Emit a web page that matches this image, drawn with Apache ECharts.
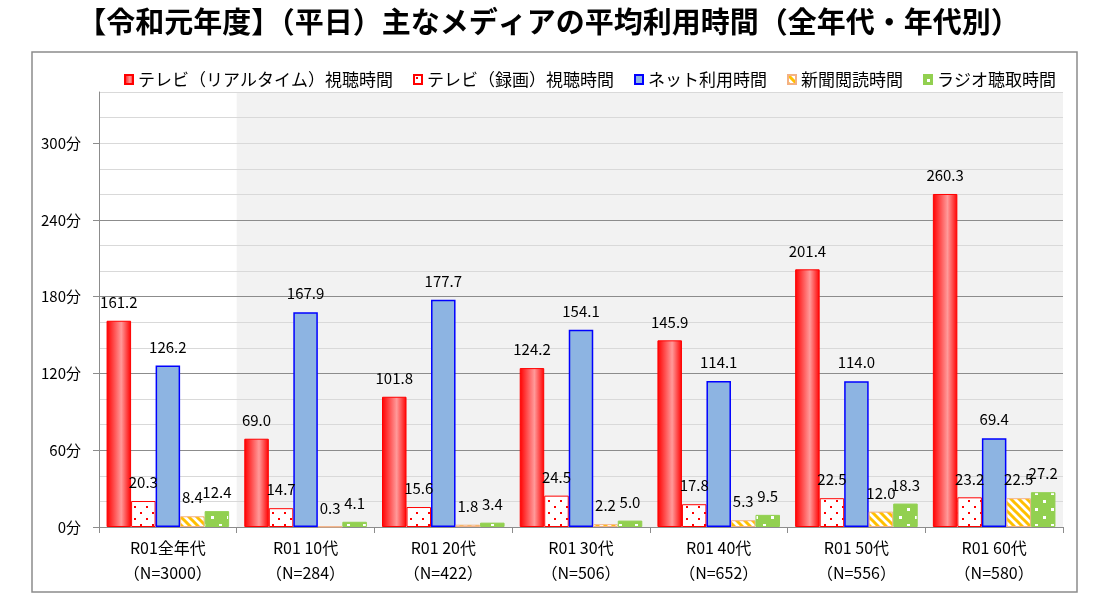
<!DOCTYPE html>
<html>
<head>
<meta charset="utf-8">
<script src="https://cdn.jsdelivr.net/npm/echarts@6/dist/echarts.min.js"></script>
<style>
html,body{margin:0;padding:0;background:#fff;}
#chart{width:1097px;height:613px;}
</style>
</head>
<body>
<div id="chart"></div>
<script>
// ---- data ----
const categories = ['R01全年代', 'R01 10代', 'R01 20代', 'R01 30代', 'R01 40代', 'R01 50代', 'R01 60代'];
const sampleSizes = ['（N=3000）', '（N=284）', '（N=422）', '（N=506）', '（N=652）', '（N=556）', '（N=580）'];
const seriesNames = ['テレビ（リアルタイム）視聴時間', 'テレビ（録画）視聴時間', 'ネット利用時間', '新聞閲読時間', 'ラジオ聴取時間'];
const tvRealtime = [161.2, 69.0, 101.8, 124.2, 145.9, 201.4, 260.3];
const tvRecorded = [20.3, 14.7, 15.6, 24.5, 17.8, 22.5, 23.2];
const internet   = [126.2, 167.9, 177.7, 154.1, 114.1, 114.0, 69.4];
const newspaper  = [8.4, 0.3, 1.8, 2.2, 5.3, 12.0, 22.5];
const radio      = [12.4, 4.1, 3.4, 5.0, 9.5, 18.3, 27.2];
const yTickValues = [0, 60, 120, 180, 240, 300];
const yUnit = '分';
const titleText = '【令和元年度】（平日）主なメディアの平均利用時間（全年代・年代別）';

// ---- patterns ----
function makeTile(w, h, draw) {
  const c = document.createElement('canvas');
  c.width = w; c.height = h;
  const ctx = c.getContext('2d');
  draw(ctx, w, h);
  return c;
}
const dotTile = makeTile(12, 12, (ctx, w, h) => {
  ctx.fillStyle = '#ffffff'; ctx.fillRect(0, 0, w, h);
  ctx.fillStyle = '#ff0000';
  ctx.fillRect(2, 2, 2, 2);
  ctx.fillRect(8, 8, 2, 2);
});
const stripeTile = makeTile(8, 8, (ctx, w, h) => {
  ctx.fillStyle = '#ffffff'; ctx.fillRect(0, 0, w, h);
  ctx.strokeStyle = '#ffc000'; ctx.lineWidth = 3;
  ctx.beginPath();
  ctx.moveTo(-2, -2); ctx.lineTo(10, 10);
  ctx.moveTo(-6, 2); ctx.lineTo(2, 10);
  ctx.moveTo(2, -6); ctx.lineTo(10, 2);
  ctx.stroke();
});
const greenTile = makeTile(16, 16, (ctx, w, h) => {
  ctx.fillStyle = '#92d050'; ctx.fillRect(0, 0, w, h);
  ctx.fillStyle = '#ffffff';
  ctx.fillRect(3, 4, 3, 3);
  ctx.fillRect(11, 12, 3, 3);
});

const redGradient = new echarts.graphic.LinearGradient(0, 0, 1, 0, [
  { offset: 0, color: '#ff0000' },
  { offset: 0.6, color: '#ff9a9a' },
  { offset: 1, color: '#ff0000' }
]);

const styles = [
  { color: redGradient, borderColor: '#ff0000', borderWidth: 1 },
  { color: { image: dotTile, repeat: 'repeat' }, borderColor: '#ff0000', borderWidth: 1 },
  { color: '#8db4e2', borderColor: '#0000ff', borderWidth: 1.5 },
  { color: { image: stripeTile, repeat: 'repeat' }, borderColor: '#f4b183', borderWidth: 1 },
  { color: { image: greenTile, repeat: 'repeat' }, borderColor: '#92d050', borderWidth: 1 }
];
const values = [tvRealtime, tvRecorded, internet, newspaper, radio];

const font = '"Noto Sans CJK JP", "Noto Sans", sans-serif';

const barSeries = values.map((arr, i) => ({
  name: seriesNames[i],
  type: 'bar',
  data: arr,
  barGap: '0%',
  barCategoryGap: '11%',
  z: 5,
  itemStyle: styles[i],
  label: {
    show: true,
    position: 'top',
    distance: 11,
    color: '#000',
    fontSize: 15,
    fontFamily: font,
    formatter: p => p.value.toFixed(1)
  }
}));

const bgSeries = {
  type: 'line',
  xAxisIndex: 1,
  data: [[0, 0]],
  symbol: 'none',
  lineStyle: { opacity: 0 },
  silent: true,
  z: 0,
  zlevel: 0,
  markArea: {
    silent: true,
    z: 0,
    itemStyle: { color: '#f2f2f2' },
    data: [[{ xAxis: 1 }, { xAxis: categories.length }]]
  }
};

const chart = echarts.init(document.getElementById('chart'), null, { renderer: 'canvas' });
chart.setOption({
  animation: false,
  backgroundColor: '#ffffff',
  textStyle: { fontFamily: font },
  title: {
    text: titleText,
    left: 'center',
    top: 2,
    textStyle: { fontSize: 29, fontWeight: 'bold', color: '#000', fontFamily: font }
  },
  graphic: [{
    type: 'rect',
    shape: { x: 32, y: 52, width: 1045, height: 540 },
    style: { fill: 'none', stroke: '#8c8c8c', lineWidth: 1.5 },
    z: -10
  }],
  legend: {
    data: seriesNames,
    top: 66,
    right: 36,
    icon: 'rect',
    itemWidth: 8,
    itemHeight: 9,
    itemGap: 20,
    textStyle: { fontSize: 17, color: '#000', fontFamily: font }
  },
  grid: { left: 99, right: 34, top: 92, bottom: 86 },
  xAxis: [{
    type: 'category',
    data: categories.map((c, i) => c + '\n' + sampleSizes[i]),
    axisLine: { lineStyle: { color: '#8c8c8c', width: 1 } },
    axisTick: { show: true, length: 6, lineStyle: { color: '#8c8c8c' } },
    axisLabel: { color: '#000', fontSize: 16, lineHeight: 25, margin: 8, fontFamily: font },
    z: 3
  }, {
    type: 'value',
    min: 0,
    max: categories.length,
    show: false
  }],
  yAxis: [{
    type: 'value',
    min: 0,
    max: 340,
    interval: 20,
    axisLine: { show: false },
    axisTick: { show: false },
    axisLabel: { show: false },
    splitLine: { show: true, lineStyle: { color: '#d9d9d9', width: 1 } },
    z: 2
  }, {
    type: 'value',
    position: 'left',
    min: 0,
    max: 340,
    interval: 60,
    axisLine: { show: true, lineStyle: { color: '#8c8c8c', width: 1 } },
    axisTick: { show: true, length: 6, customValues: yTickValues, lineStyle: { color: '#8c8c8c' } },
    axisLabel: {
      customValues: yTickValues,
      color: '#000', fontSize: 15, margin: 18, fontFamily: font,
      formatter: v => v + yUnit
    },
    splitLine: { show: true, showMaxLine: false, lineStyle: { color: '#8c8c8c', width: 1 } },
    z: 3
  }],
  series: [bgSeries].concat(barSeries)
});
</script>
</body>
</html>
